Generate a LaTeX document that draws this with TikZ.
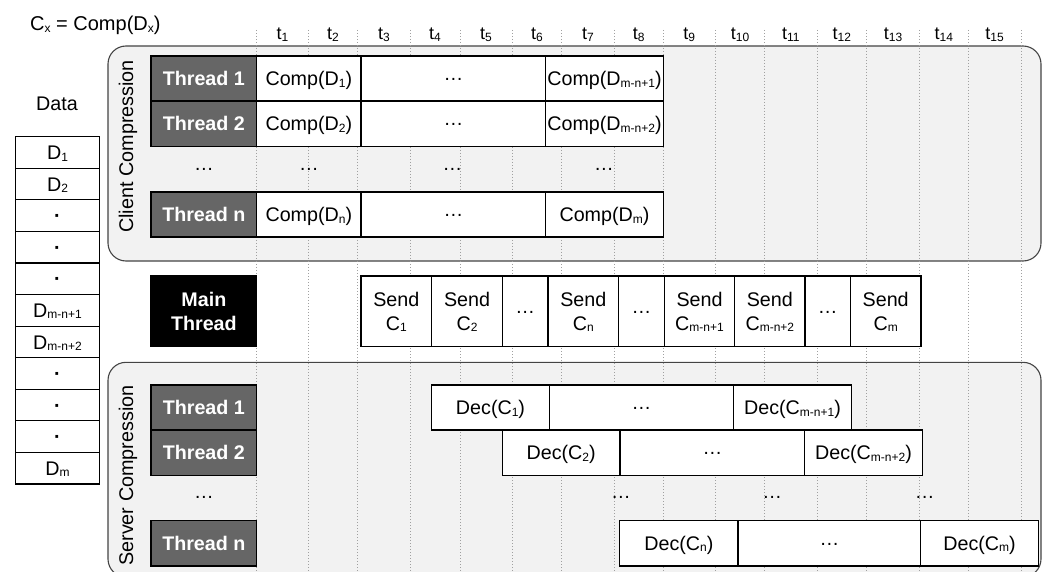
\documentclass[tikz,border=0pt]{standalone}
\usepackage{fontspec}
\setmainfont{Liberation Sans}
\newcommand\sbs[1]{\raisebox{-1.5pt}[0pt][0pt]{\fontsize{12}{12}\selectfont #1}}
\newcommand\mdots{\raisebox{5pt}{…}}
\newcommand\bx[7][]{\node[cell,#1,minimum width={(#5)-(#3)},minimum height={(#6)-(#4)}] (#2) at ({((#3)+(#5))/2},{((#4)+(#6))/2}) {#7};}
\definecolor{thr}{HTML}{666666}
\definecolor{reg}{HTML}{F2F2F2}
\definecolor{regline}{HTML}{444444}
\definecolor{gridc}{HTML}{A0A0A0}
\tikzset{
 cell/.style={draw=black,line width=1.1pt,fill=white,inner sep=0pt,outer sep=0pt,font=\fontsize{19.7}{24}\selectfont,text height=14.2pt,text depth=0pt},
 multi/.style={text height=,text depth=,align=center},
 thread/.style={fill=thr,text=white,font=\bfseries\fontsize{19.7}{24}\selectfont},
 mainthr/.style={fill=black,text=white,font=\bfseries\fontsize{19.7}{24}\selectfont},
 region/.style={draw=regline,fill=reg,line width=1.1pt,rounded corners=18pt,text height=,text depth=},
 gridline/.style={draw=gridc,line width=0.8pt,dash pattern=on 0.8pt off 2.2pt},
 plain/.style={inner sep=0pt,font=\fontsize{19.7}{24}\selectfont,text height=14.2pt,text depth=0pt},
 vlab/.style={inner sep=0pt,rotate=90,anchor=base,font=\fontsize{19.8}{24}\selectfont},
 tlab/.style={inner sep=0pt,anchor=base,font=\fontsize{18}{20}\selectfont},
}
\begin{document}
\begin{tikzpicture}[x=1pt,y=-1pt]
\useasboundingbox (0,0) rectangle (1046,572);
\clip (0,0) rectangle (1046,572);
% regions
\bx[region]{client}{108}{46}{1041}{261}{}
\bx[region]{server}{108}{362.3}{1041}{577}{}
% time grid
\foreach \x [count=\i] in {256.7,308,357.7,410,460,512,561.7,614.3,663,715.3,764.7,817,866.7,919.3,968.3,1021}
  \draw[gridline] (\x,30) coordinate (g\i) -- (\x,572);
\foreach \a/\b [count=\i] in {256.7/308,308/357.7,357.7/410,410/460,460/512,512/561.7,561.7/614.3,614.3/663,663/715.3,715.3/764.7,764.7/817,817/866.7,866.7/919.3,919.3/968.3,968.3/1021}
  \node[tlab] (t\i) at ({(\a+\b)/2},40) {t\sbs{\i}};
% legend
\node[inner sep=0pt,anchor=base west,font=\fontsize{20}{24}\selectfont] (cx) at (30,31) {C\sbs{x} = Comp(D\sbs{x})};
% data column
\node[plain] (datalbl) at (57,103) {Data};
\foreach \lab [count=\i from 0] in {D\sbs{1},D\sbs{2},\textbf{·},\textbf{·},\textbf{·},D\sbs{m-n+1},D\sbs{m-n+2},\textbf{·},\textbf{·},\textbf{·},D\sbs{m}}
  {\bx{d\i}{15.7}{136.7+31.57*\i}{99.3}{136.7+31.57*(\i+1)}{\lab}}
% client compression
\node[vlab] (clientlbl) at (133,146.5) {Client Compression};
\bx[thread]{ct1}{151}{56}{256.7}{101}{Thread 1}
\bx[thread]{ct2}{151}{101}{256.7}{146.7}{Thread 2}
\bx[thread]{ctn}{151}{192}{256.7}{237}{Thread n}
\node[plain] (cdots0) at (204,168) {\mdots};
\bx{c11}{256.7}{56}{361}{101}{Comp(D\sbs{1})}
\bx{c12}{361}{56}{545.7}{101}{\mdots}
\bx{c13}{545.7}{56}{663.3}{101}{Comp(D\sbs{m-n+1})}
\bx{c21}{256.7}{101}{361}{146.7}{Comp(D\sbs{2})}
\bx{c22}{361}{101}{545.7}{146.7}{\mdots}
\bx{c23}{545.7}{101}{663.3}{146.7}{Comp(D\sbs{m-n+2})}
\bx{cn1}{256.7}{192}{361}{237}{Comp(D\sbs{n})}
\bx{cn2}{361}{192}{545.7}{237}{\mdots}
\bx{cn3}{545.7}{192}{663.3}{237}{Comp(D\sbs{m})}
\node[plain] (cdots1) at (309,168) {\mdots};
\node[plain] (cdots2) at (452.5,168) {\mdots};
\node[plain] (cdots3) at (604,168) {\mdots};
% main thread
\bx[mainthr,multi]{main}{151}{276}{256.7}{346.3}{Main\\Thread}
\bx[multi]{s1}{361}{276}{431.7}{346.3}{Send\\C\sbs{1}}
\bx[multi]{s2}{431.7}{276}{502.3}{346.3}{Send\\C\sbs{2}}
\bx{s3}{502.3}{276}{548}{346.3}{\mdots}
\bx[multi]{s4}{548}{276}{618.7}{346.3}{Send\\C\sbs{n}}
\bx{s5}{618.7}{276}{664.3}{346.3}{\mdots}
\bx[multi]{s6}{664.3}{276}{734.7}{346.3}{Send\\C\sbs{m-n+1}}
\bx[multi]{s7}{734.7}{276}{805}{346.3}{Send\\C\sbs{m-n+2}}
\bx{s8}{805}{276}{850.3}{346.3}{\mdots}
\bx[multi]{s9}{850.3}{276}{921}{346.3}{Send\\C\sbs{m}}
% server compression
\node[vlab] (serverlbl) at (133,475.5) {Server Compression};
\bx[thread]{st1}{151}{385}{256.7}{430}{Thread 1}
\bx[thread]{st2}{151}{430}{256.7}{475.7}{Thread 2}
\bx[thread]{stn}{151}{520.7}{256.7}{566}{Thread n}
\node[plain] (sdots0) at (204,496.7) {\mdots};
\bx{d11}{431.7}{385}{549.3}{430}{Dec(C\sbs{1})}
\bx{d12}{549.3}{385}{733.7}{430}{\mdots}
\bx{d13}{733.7}{385}{851.3}{430}{Dec(C\sbs{m-n+1})}
\bx{d21}{502.3}{430}{620}{475.7}{Dec(C\sbs{2})}
\bx{d22}{620}{430}{804.7}{475.7}{\mdots}
\bx{d23}{804.7}{430}{922.3}{475.7}{Dec(C\sbs{m-n+2})}
\bx{dn1}{619.7}{520.7}{738}{566}{Dec(C\sbs{n})}
\bx{dn2}{738}{520.7}{920.7}{566}{\mdots}
\bx{dn3}{920.7}{520.7}{1038.3}{566}{Dec(C\sbs{m})}
\node[plain] (sdots1) at (621,496.7) {\mdots};
\node[plain] (sdots2) at (772.3,496.7) {\mdots};
\node[plain] (sdots3) at (924.7,496.7) {\mdots};
\end{tikzpicture}
\end{document}
